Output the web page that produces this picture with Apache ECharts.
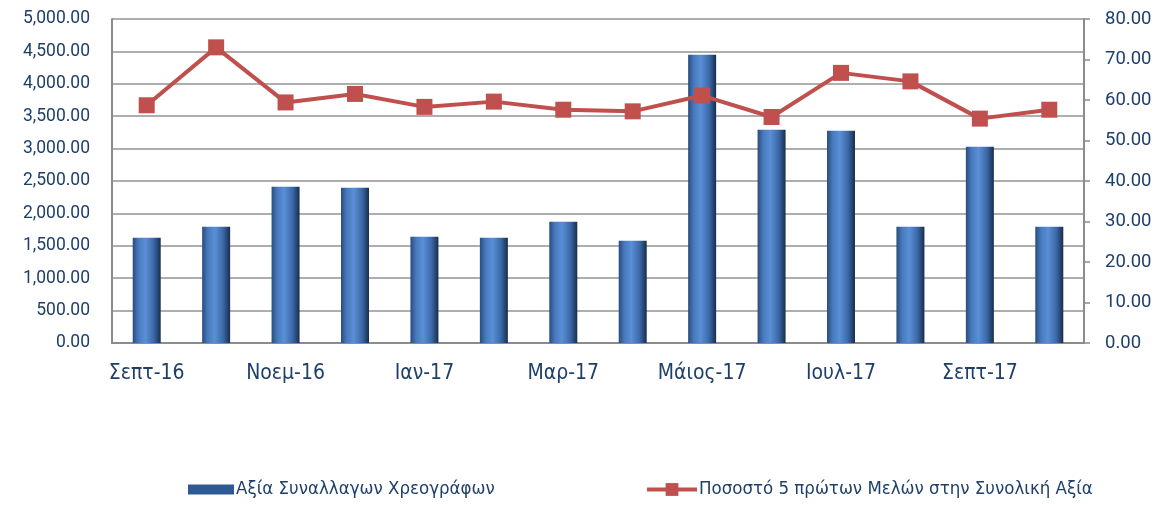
<!DOCTYPE html>
<html>
<head>
<meta charset="utf-8">
<script src="https://cdn.jsdelivr.net/npm/echarts@6/dist/echarts.min.js"></script>
<style>
  html, body { margin: 0; padding: 0; background: #fff; }
  #myChart { width: 1168px; height: 505px; }
</style>
</head>
<body>
<div id="myChart"></div>
<script>
// κατηγορίες (μήνες)
var months = ["Σεπτ-16", "Οκτ-16", "Νοεμ-16", "Δεκ-16", "Ιαν-17", "Φεβ-17", "Μαρ-17",
  "Απρ-17", "Μάιος-17", "Ιουν-17", "Ιουλ-17", "Αυγ-17", "Σεπτ-17", "Οκτ-17"];
// Αξία Συναλλαγων Χρεογράφων
var tradeValue = [1625, 1795, 2412, 2397, 1640, 1625, 1872, 1579, 4449, 3292, 3276, 1795, 3029, 1795];
// Ποσοστό 5 πρώτων Μελών
var top5Share = [58.7, 73.0, 59.4, 61.5, 58.3, 59.6, 57.6, 57.2, 61.1, 55.8, 66.7, 64.6, 55.4, 57.6];
var barName = "Αξία Συναλλαγων Χρεογράφων";
var lineName = "Ποσοστό 5 πρώτων Μελών στην Συνολική Αξία";

var labelBlue = "#1F3F6B";
var narrow = "'Liberation Sans Narrow', 'DejaVu Sans Condensed', sans-serif";

function fmt(v) {
  return v.toLocaleString("en-US", { minimumFractionDigits: 2, maximumFractionDigits: 2 });
}

var myChart = echarts.init(document.getElementById("myChart"));
myChart.setOption({
  animation: false,
  grid: { left: 112, right: 84, top: 19, bottom: 162, containLabel: false },
  legend: [
    {
      top: 475,
      left: 183,
      itemWidth: 46,
      itemHeight: 10,
      itemGap: 2,
      textStyle: { color: labelBlue, fontSize: 18.5, fontFamily: narrow, padding: [0, 0, 0, -3] },
      data: [{ name: barName, icon: "rect", itemStyle: { color: "#2E5A94" } }]
    },
    {
      top: 475,
      left: 640,
      itemWidth: 50,
      itemHeight: 16,
      textStyle: { color: labelBlue, fontSize: 18.5, fontFamily: narrow, padding: [0, 0, 0, -3] },
      data: [{ name: lineName, lineStyle: { width: 4 } }]
    }
  ],
  xAxis: {
    type: "category",
    data: months,
    axisLine: { lineStyle: { color: "#8c8c8c", width: 2 } },
    axisTick: { show: false },
    axisLabel: { interval: 1, color: labelBlue, fontSize: 21, fontFamily: narrow, margin: 20 }
  },
  yAxis: [
    {
      type: "value",
      min: 0, max: 5000, interval: 500,
      axisLine: { show: true, lineStyle: { color: "#8c8c8c", width: 2 } },
      axisTick: { show: false },
      splitLine: { lineStyle: { color: "#939393", width: 1.5 } },
      axisLabel: { color: labelBlue, fontSize: 17.5, fontFamily: "Roboto", margin: 22, formatter: fmt }
    },
    {
      type: "value",
      min: 0, max: 80, interval: 10,
      axisLine: { show: true, lineStyle: { color: "#8c8c8c", width: 2 } },
      axisTick: { show: true, length: 6, lineStyle: { color: "#8c8c8c", width: 1.5 } },
      splitLine: { show: false },
      axisLabel: { color: labelBlue, fontSize: 18.5, fontFamily: "Roboto", margin: 21, formatter: fmt }
    }
  ],
  series: [
    {
      name: barName,
      type: "bar",
      data: tradeValue,
      barWidth: 28,
      itemStyle: {
        color: new echarts.graphic.LinearGradient(0, 0, 1, 0, [
          { offset: 0, color: "#284c7e" },
          { offset: 0.2, color: "#4779bd" },
          { offset: 0.45, color: "#5a8fd6" },
          { offset: 0.75, color: "#3b69a8" },
          { offset: 1, color: "#182d4c" }
        ])
      }
    },
    {
      name: lineName,
      type: "line",
      yAxisIndex: 1,
      data: top5Share,
      symbol: "rect",
      symbolSize: 16,
      lineStyle: { color: "#C0504D", width: 4 },
      itemStyle: { color: "#C0504D" }
    }
  ]
});
</script>
</body>
</html>
